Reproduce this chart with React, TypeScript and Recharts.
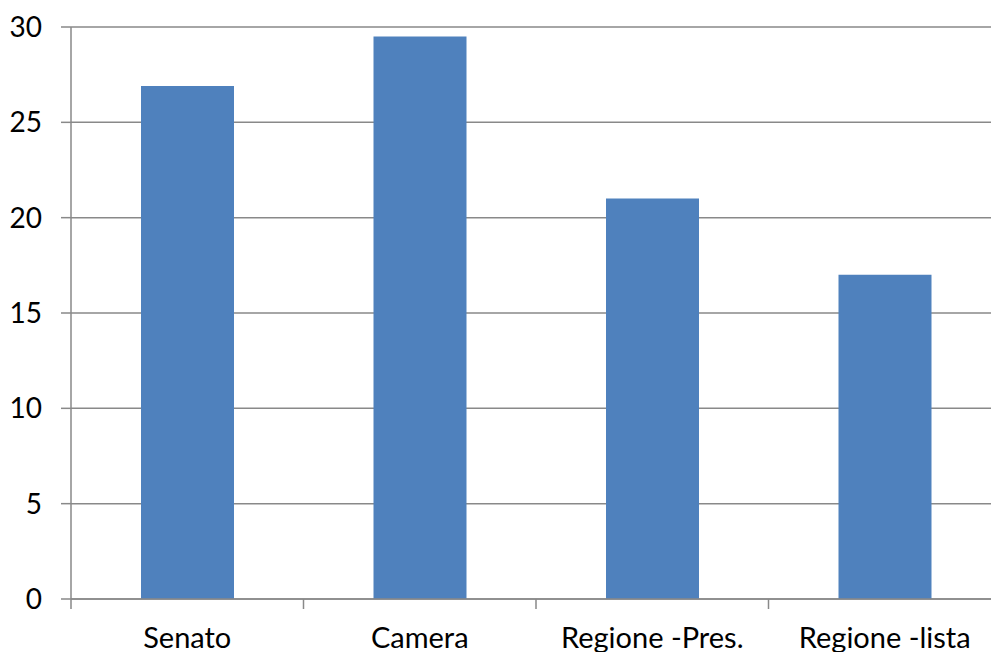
import { BarChart, Bar, XAxis, YAxis, CartesianGrid } from 'recharts';

const categories = ['Senato', 'Camera', 'Regione -Pres.', 'Regione -lista'];
const values = [26.9, 29.5, 21.0, 17.0];
const yTicks = [0, 5, 10, 15, 20, 25, 30];

const data = categories.map((name, i) => ({ name, value: values[i] }));

const grey = '#898989';
const family = 'Lato, "Open Sans", sans-serif';
const TICK = 10;
const GAP = 18;

// category label plus the boundary tick marks that Excel draws between categories
function CategoryTick(props: any) {
  const { x, y, payload, index, visibleTicksCount, width } = props;
  const half = payload?.offset ?? width / visibleTicksCount / 2;
  const axisY = y - TICK - GAP;
  const last = index === visibleTicksCount - 1;
  return (
    <g>
      <line x1={x - half} x2={x - half} y1={axisY} y2={axisY + TICK} stroke={grey} strokeWidth={1.5} />
      {last && <line x1={x + half} x2={x + half} y1={axisY} y2={axisY + TICK} stroke={grey} strokeWidth={1.5} />}
      <text x={x} y={y} dy="0.71em" textAnchor="middle" fill="#000" fontSize={29} fontFamily={family}>
        {payload.value}
      </text>
    </g>
  );
}

export default function App() {
  return (
    <div style={{ position: 'absolute', left: 0, top: 0, width: 991, height: 652, overflow: 'hidden', background: '#fff' }}>
      <BarChart width={1010} height={652} data={data} margin={{ top: 27, right: 9, bottom: 0, left: 0 }}>
        <CartesianGrid horizontal vertical={false} stroke={grey} strokeWidth={1.5} />
        <XAxis
          dataKey="name"
          height={53}
          tick={<CategoryTick />}
          tickLine={false}
          axisLine={{ stroke: grey, strokeWidth: 1.5 }}
          tickSize={TICK}
          tickMargin={GAP}
          interval={0}
        />
        <YAxis
          width={71}
          domain={[0, 30]}
          ticks={yTicks}
          tick={{ fill: '#000', fontSize: 28, fontFamily: family }}
          tickSize={10}
          tickMargin={19}
          axisLine={{ stroke: grey, strokeWidth: 1.5 }}
          tickLine={{ stroke: grey, strokeWidth: 1.5 }}
        />
        <Bar dataKey="value" fill="#4F81BD" barSize={93} isAnimationActive={false} />
      </BarChart>
    </div>
  );
}
